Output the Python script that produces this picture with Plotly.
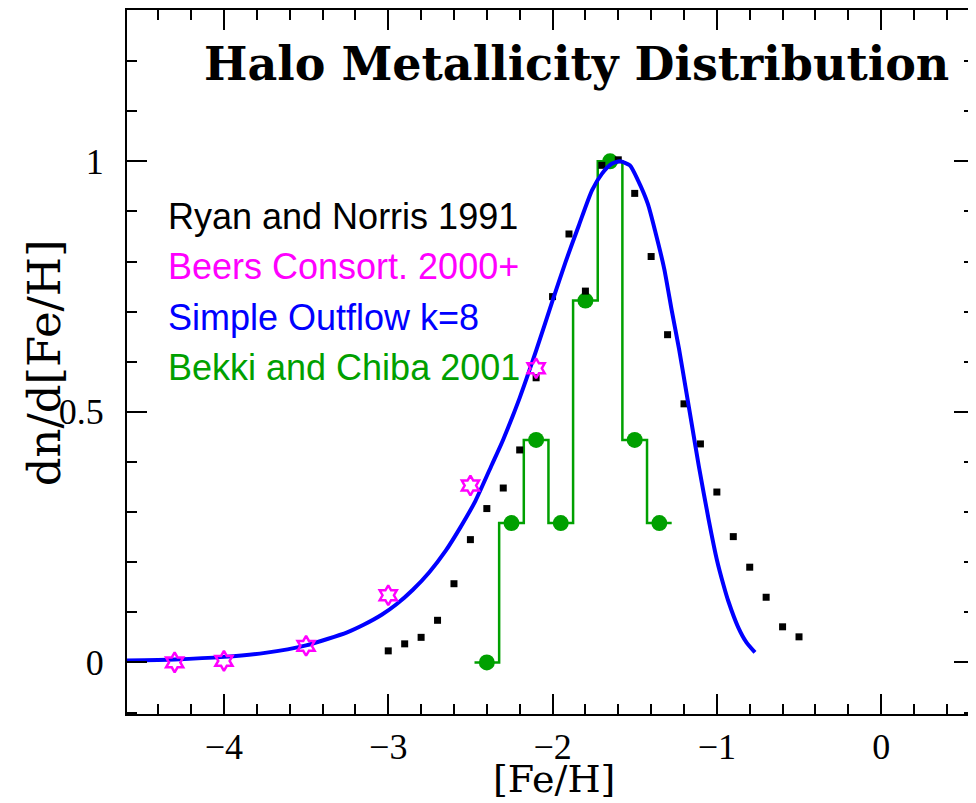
import plotly.graph_objects as go

# Ryan & Norris 1991 (black squares)
rn_feh = [-3.0, -2.9, -2.8, -2.7, -2.6, -2.5, -2.4, -2.3, -2.2, -2.1, -2.0, -1.9, -1.8,
          -1.7, -1.6, -1.5, -1.4, -1.3, -1.2, -1.1, -1.0, -0.9, -0.8, -0.7, -0.6, -0.5]
rn_val = [0.023, 0.037, 0.050, 0.084, 0.157, 0.245, 0.307, 0.348, 0.424, 0.568, 0.730, 0.855, 0.741,
          0.992, 1.003, 0.936, 0.810, 0.654, 0.516, 0.436, 0.340, 0.251, 0.190, 0.130, 0.071, 0.051]

# Beers Consortium 2000+ (magenta stars)
beers_feh = [-4.3, -4.0, -3.5, -3.0, -2.5, -2.1]
beers_val = [0.0, 0.003, 0.033, 0.134, 0.353, 0.587]

# Simple outflow model k=8 (blue curve)
model_feh = [-4.59, -4.3, -4.0, -3.75, -3.5, -3.25, -3.15, -3.04, -2.95, -2.85, -2.75, -2.65,
             -2.56, -2.47, -2.37, -2.30, -2.20, -2.10, -2.00, -1.92, -1.84, -1.76, -1.70, -1.64,
             -1.59, -1.53, -1.48, -1.42, -1.375, -1.32, -1.275, -1.23, -1.19, -1.15, -1.11,
             -1.05, -1.0, -0.96, -0.93, -0.87, -0.82, -0.768]
model_val = [0.004, 0.006, 0.011, 0.019, 0.034, 0.060, 0.075, 0.095, 0.116, 0.145, 0.180, 0.223,
             0.270, 0.322, 0.394, 0.445, 0.528, 0.622, 0.722, 0.800, 0.872, 0.942, 0.975, 0.995,
             1.0, 0.992, 0.962, 0.915, 0.860, 0.785, 0.703, 0.625, 0.548, 0.470, 0.392,
             0.285, 0.205, 0.155, 0.122, 0.070, 0.040, 0.020]

# Bekki & Chiba 2001 (green histogram)
bc_feh = [-2.40, -2.25, -2.10, -1.95, -1.80, -1.65, -1.50, -1.35]
bc_val = [0.0, 0.278, 0.444, 0.278, 0.722, 1.0, 0.444, 0.278]
bc_binwidth = 0.15

legend_labels = ["Ryan and Norris 1991", "Beers Consort. 2000+",
                 "Simple Outflow k=8", "Bekki and Chiba 2001"]
legend_colors = ["#000000", "#ff00ff", "#0000ff", "#00a000"]

step_x, step_y = [], []
for c, v in zip(bc_feh, bc_val):
    step_x += [c - bc_binwidth / 2, c + bc_binwidth / 2]
    step_y += [v, v]

fig = go.Figure()
fig.add_trace(go.Scatter(x=step_x, y=step_y, mode="lines",
                         line=dict(color="#00a000", width=2.5), hoverinfo="skip"))
fig.add_trace(go.Scatter(x=bc_feh, y=bc_val, mode="markers",
                         marker=dict(symbol="circle", size=16, color="#00a000")))
fig.add_trace(go.Scatter(x=rn_feh, y=rn_val, mode="markers",
                         marker=dict(symbol="square", size=7, color="#000000")))
fig.add_trace(go.Scatter(x=model_feh, y=model_val, mode="lines",
                         line=dict(color="#0000ff", width=4, shape="spline", smoothing=0.6)))
fig.add_trace(go.Scatter(x=beers_feh, y=beers_val, mode="markers",
                         marker=dict(symbol="hexagram-open", size=15, color="#ff00ff",
                                     line=dict(width=2.5, color="#ff00ff"))))

# the page places the figure 8px from the top-left corner
OFF = 8
FW, FH = 976 - OFF, 803 - OFF
L, T = 127 - OFF, 0
W = FW - L
H = 714 - OFF - T


def px(xp):
    return (xp - OFF - L) / W


def py(yp):
    return (T + H - (yp - OFF)) / H


annotations = [
    dict(text="<b>Halo Metallicity Distribution</b>", x=px(578), y=py(62),
         font=dict(family="DejaVu Serif", size=46, color="black")),
    dict(text="[Fe/H]", x=px(555), y=py(779),
         font=dict(family="DejaVu Serif", size=38, color="black")),
    dict(text="dn/d[Fe/H]", x=px(45), y=py(362), textangle=-90,
         font=dict(family="DejaVu Serif", size=45, color="black")),
]
for i, (lab, col) in enumerate(zip(legend_labels, legend_colors)):
    annotations.append(dict(text=lab, x=px(166), y=py(215 + 50.5 * i), xanchor="left",
                            font=dict(family="Liberation Sans", size=36, color=col)))
for a in annotations:
    a.update(xref="paper", yref="paper", showarrow=False)
    a.setdefault("xanchor", "center")
    a.setdefault("yanchor", "middle")

axis_common = dict(showline=True, linewidth=2, linecolor="black", mirror="ticks",
                   ticks="inside", ticklen=20, tickwidth=2, tickcolor="black",
                   showgrid=False, zeroline=False,
                   tickfont=dict(family="Liberation Serif", size=36, color="black"))

fig.update_layout(
    width=FW, height=FH,
    margin=dict(l=L, r=0, t=T, b=FH - T - H),
    paper_bgcolor="white", plot_bgcolor="white",
    showlegend=False,
    annotations=annotations,
    xaxis=dict(range=[-4.59, 0.565], tickvals=[-4, -3, -2, -1, 0],
               minor=dict(dtick=0.2, tick0=0, ticks="inside", ticklen=10, tickwidth=2,
                          tickcolor="black"),
               ticklabelstandoff=0, **axis_common),
    yaxis=dict(range=[-0.103, 1.302], tickvals=[0, 0.5, 1], ticktext=["0", "0.5", "1"],
               minor=dict(dtick=0.1, tick0=0, ticks="inside", ticklen=10, tickwidth=2,
                          tickcolor="black"),
               ticklabelstandoff=14, **axis_common),
)

fig.write_html("out.html")
